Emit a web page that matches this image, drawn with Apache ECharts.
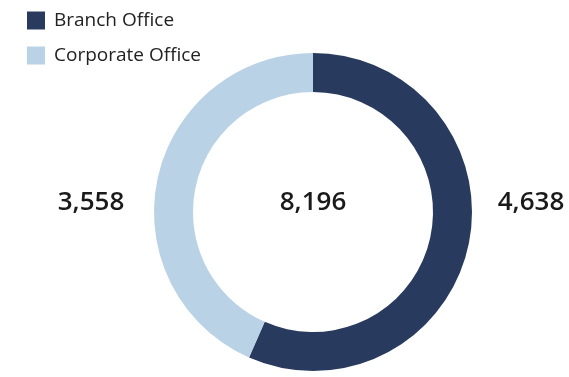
<!DOCTYPE html>
<html>
<head>
<meta charset="utf-8">
<script src="https://cdn.jsdelivr.net/npm/echarts@6/dist/echarts.min.js"></script>
<style>
  html, body { margin: 0; padding: 0; background: #fff; }
  #chart { width: 569px; height: 377px; }
</style>
</head>
<body>
<div id="chart"></div>
<script>
// office headcount split
const categories = ["Branch Office", "Corporate Office"];
const values = [4638, 3558];
const colors = ["#283a5e", "#b9d2e6"];

const fmt = (n) => n.toLocaleString("en-US");
const total = values.reduce((a, b) => a + b, 0);

const chart = echarts.init(document.getElementById("chart"));

// side labels sit level with the centre figure
const labelX = [531, 91];

chart.setOption({
  animation: false,
  textStyle: { fontFamily: "Open Sans" },
  legend: {
    orient: "vertical",
    left: 27,
    top: 11,
    padding: 0,
    icon: "rect",
    itemWidth: 18,
    itemHeight: 18,
    itemGap: 16,
    textStyle: { fontSize: 19, fontWeight: 500, color: "#222", fontFamily: "Open Sans", padding: [0, 0, 0, 4] },
    data: categories
  },
  graphic: [
    {
      type: "text",
      x: 313,
      y: 203,
      style: {
        text: fmt(total),
        align: "center",
        verticalAlign: "middle",
        fontSize: 26,
        fontWeight: 600,
        fontFamily: "Open Sans",
        fill: "#1a1a1a"
      }
    }
  ],
  series: [
    {
      type: "pie",
      center: [313, 212],
      radius: [120, 159],
      startAngle: 90,
      clockwise: true,
      silent: true,
      label: {
        show: true,
        position: "outside",
        formatter: (p) => fmt(p.value),
        overflow: "none",
        fontSize: 26,
        fontWeight: 600,
        fontFamily: "Open Sans",
        color: "#1a1a1a"
      },
      labelLine: { show: false },
      labelLayout: (p) => ({
        x: labelX[p.dataIndex],
        y: 203,
        width: 100,
        align: "center",
        verticalAlign: "middle"
      }),
      data: categories.map((name, i) => ({
        name,
        value: values[i],
        itemStyle: { color: colors[i] }
      }))
    }
  ]
});
</script>
</body>
</html>
